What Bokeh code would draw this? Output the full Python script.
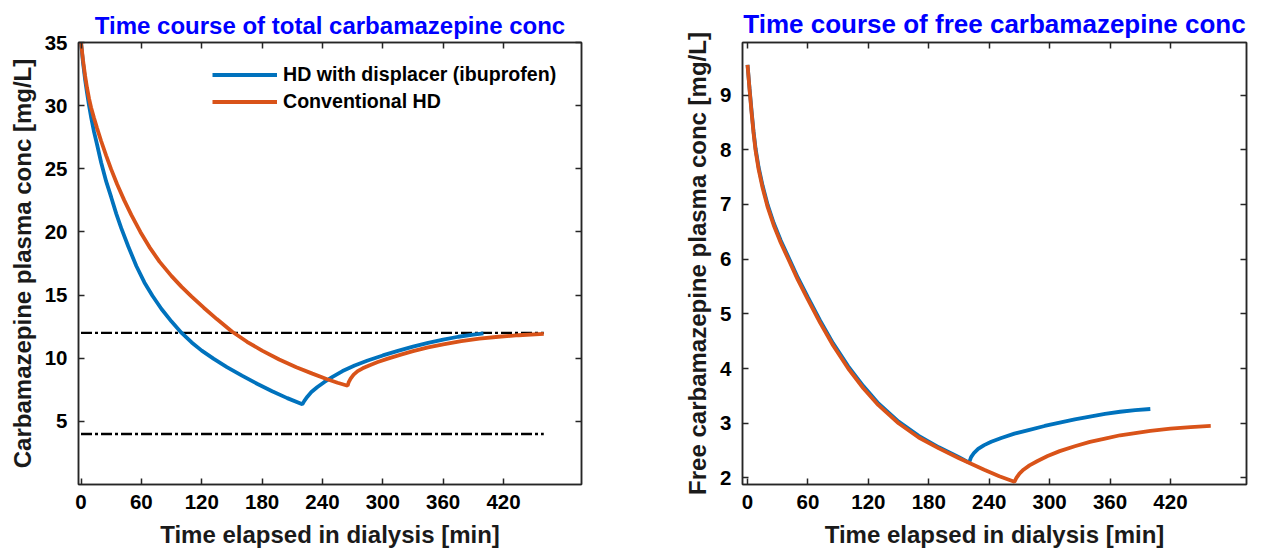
from bokeh.plotting import figure
from bokeh.layouts import row
from bokeh.models import Range1d, LinearAxis, FixedTicker, Legend, LegendItem
from bokeh.embed import file_html
from bokeh.resources import INLINE

# ---------------- data ----------------
# Total carbamazepine, HD with displacer (ibuprofen)
total_disp_t = [0, 2, 4, 6, 8, 10, 13, 16, 20, 25, 30, 35, 40, 47, 55, 63, 71, 80, 90,
                100, 110, 120, 132, 145, 160, 175, 190, 205, 220,
                222, 225, 229, 235, 242, 250, 260, 272, 285, 300, 315, 330, 345, 360, 375, 390, 400]
total_disp_c = [35.0, 33.4, 32.1, 31.0, 30.0, 29.1, 27.9, 26.9, 25.5, 24.0, 22.75, 21.45, 20.3, 18.85, 17.3, 16.0, 14.95, 13.9, 12.9,
                12.0, 11.25, 10.6, 9.95, 9.3, 8.62, 7.98, 7.38, 6.84, 6.35,
                6.62, 6.95, 7.32, 7.72, 8.12, 8.52, 8.98, 9.42, 9.82, 10.22, 10.58, 10.92, 11.22, 11.48, 11.70, 11.87, 11.97]

# Total carbamazepine, conventional HD
total_conv_t = [0, 2, 4, 6, 8, 10, 13, 16, 20, 25, 30, 36, 43, 50, 59, 68, 78, 90, 100, 110,
                122, 135, 150, 165, 180, 197, 214, 230, 244, 255, 265,
                266, 268, 271, 275, 280, 287, 295, 305, 318, 330, 345, 360, 378, 396, 415, 435, 460]
total_conv_c = [35.0, 33.6, 32.4, 31.4, 30.55, 29.85, 29.0, 28.2, 27.2, 26.05, 24.95, 23.75, 22.5, 21.35, 20.0, 18.8, 17.65, 16.5, 15.65, 14.88,
                14.0, 13.1, 12.12, 11.3, 10.6, 9.9, 9.28, 8.78, 8.36, 8.06, 7.82,
                8.08, 8.38, 8.70, 8.98, 9.20, 9.45, 9.70, 9.97, 10.28, 10.56, 10.86, 11.10, 11.35, 11.55, 11.70, 11.82, 11.93]

# Free carbamazepine, HD with displacer (ibuprofen)
free_disp_t = [0, 2, 4, 6, 8, 11, 15, 20, 26, 33, 40, 50, 60, 72, 85, 100, 115, 130, 150, 170, 190, 210, 220,
               222, 225, 229, 235, 242, 252, 265, 280, 295, 310, 325, 340, 355, 370, 385, 400]
free_disp_c = [9.55, 9.12, 8.71, 8.33, 8.02, 7.68, 7.34, 6.99, 6.66, 6.34, 6.06, 5.66, 5.30, 4.88, 4.46, 4.04, 3.68, 3.36, 3.03, 2.77, 2.56, 2.38, 2.28,
               2.38, 2.46, 2.53, 2.60, 2.66, 2.73, 2.81, 2.88, 2.95, 3.01, 3.07, 3.12, 3.17, 3.21, 3.24, 3.26]

# Free carbamazepine, conventional HD
free_conv_t = [0, 2, 4, 6, 8, 11, 15, 20, 26, 33, 40, 50, 60, 72, 85, 100, 115, 130, 150, 170, 190, 210, 222, 235, 250, 265,
               267, 270, 274, 280, 288, 298, 310, 325, 340, 355, 370, 385, 400, 420, 440, 460]
free_conv_c = [9.55, 9.10, 8.68, 8.30, 7.98, 7.64, 7.30, 6.95, 6.62, 6.30, 6.02, 5.62, 5.26, 4.84, 4.42, 4.00, 3.64, 3.33, 3.00, 2.74, 2.54, 2.36, 2.26, 2.15, 2.03, 1.93,
               2.00, 2.08, 2.15, 2.23, 2.31, 2.40, 2.49, 2.58, 2.66, 2.72, 2.78, 2.82, 2.86, 2.90, 2.93, 2.95]

# therapeutic range limits (dash-dot lines) and their time span
limit_levels = [12, 4]
limit_span_t = [0, 460]

x_ticks = [0, 60, 120, 180, 240, 300, 360, 420]
total_y_ticks = [5, 10, 15, 20, 25, 30, 35]
free_y_ticks = [2, 3, 4, 5, 6, 7, 8, 9]

series_labels = ["HD with displacer (ibuprofen)", "Conventional HD"]

# ---------------- style ----------------
BLUE = "#0072BD"
ORANGE = "#D95319"
AX = "#262626"
FONT = "Liberation Sans"
LW = 3.8


def style_axis(ax, ticks, show_labels=True):
    ax.ticker = FixedTicker(ticks=ticks)
    ax.axis_line_color = AX
    ax.axis_line_width = 1.5
    ax.major_tick_line_color = AX
    ax.major_tick_line_width = 1.5
    ax.major_tick_in = 6
    ax.major_tick_out = 0
    ax.minor_tick_line_color = None
    ax.major_label_text_font = FONT
    ax.major_label_text_font_style = "bold"
    ax.axis_label_text_font = FONT
    ax.axis_label_text_font_style = "bold"
    ax.axis_label_text_color = "#1a1a1a"
    ax.axis_label_text_font_size = "24px"
    if show_labels:
        ax.major_label_text_font_size = "20.5px"
        ax.major_label_text_color = "black"
    else:
        ax.major_label_text_font_size = "1px"
        ax.major_label_text_color = None
        ax.major_label_standoff = 0


def make_fig(x_range, y_range, yticks, title, ylabel, border_left, border_right, frame_w, title_size):
    p = figure(frame_width=frame_w, frame_height=442, x_range=x_range, y_range=y_range,
               output_backend="svg", toolbar_location=None,
               min_border_left=border_left, min_border_right=border_right,
               min_border_top=42, min_border_bottom=69,
               x_axis_label="Time elapsed in dialysis [min]", y_axis_label=ylabel)
    p.grid.visible = False
    p.outline_line_color = AX
    p.outline_line_width = 1.5
    p.background_fill_color = "white"
    p.border_fill_color = "white"
    p.title.text = title
    p.title.text_color = "#0000FF"
    p.title.text_font = FONT
    p.title.text_font_style = "bold"
    p.title.text_font_size = title_size
    p.title.align = "center"
    p.title.standoff = 8
    style_axis(p.xaxis[0], x_ticks)
    style_axis(p.yaxis[0], yticks)
    p.xaxis[0].major_label_standoff = 10
    p.xaxis[0].axis_label_standoff = 9
    p.yaxis[0].major_label_standoff = 11
    p.yaxis[0].axis_label_standoff = 6
    top = LinearAxis()
    style_axis(top, x_ticks, show_labels=False)
    p.add_layout(top, "above")
    right = LinearAxis()
    style_axis(right, yticks, show_labels=False)
    p.add_layout(right, "right")
    return p


# ---- left: total ----
p1 = make_fig(Range1d(-2.5, 497.5), Range1d(0, 35), total_y_ticks,
              "Time course of total carbamazepine conc", "Carbamazepine plasma conc [mg/L]",
              78, 59, 503, "24px")
for lvl in limit_levels:
    p1.line(limit_span_t, [lvl, lvl], line_color="black", line_width=2.3, line_dash="11 3 3 3")
r_b1 = p1.line(total_disp_t, total_disp_c, line_color=BLUE, line_width=LW)
r_o1 = p1.line(total_conv_t, total_conv_c, line_color=ORANGE, line_width=LW)

legend = Legend(items=[LegendItem(label=series_labels[0], renderers=[r_b1]),
                       LegendItem(label=series_labels[1], renderers=[r_o1])],
                location=(134, 369), padding=0, margin=0, spacing=0,
                glyph_width=65, glyph_height=27, label_height=27, label_standoff=6,
                border_line_alpha=0, background_fill_alpha=0,
                label_text_font=FONT, label_text_font_style="bold",
                label_text_font_size="19.6px", label_text_color="black")
p1.add_layout(legend)

# ---- right: free ----
p2 = make_fig(Range1d(-5, 495.5), Range1d(1.88, 9.96), free_y_ticks,
              "Time course of free carbamazepine conc", "Free carbamazepine plasma conc [mg/L]",
              102, 10, 504, "26px")
p2.line(free_disp_t, free_disp_c, line_color=BLUE, line_width=LW)
p2.line(free_conv_t, free_conv_c, line_color=ORANGE, line_width=LW)

layout = row(p1, p2, spacing=0)
open("out.html", "w").write(file_html(layout, INLINE))
